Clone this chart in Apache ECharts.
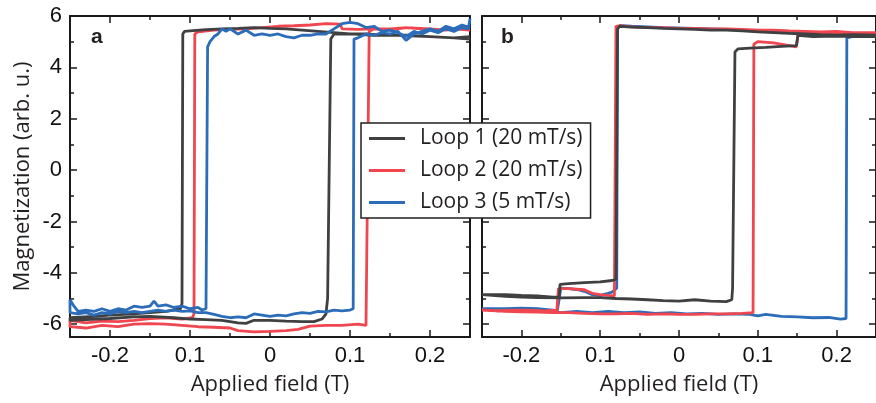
<!DOCTYPE html>
<html><head><meta charset="utf-8">
<script src="https://cdn.jsdelivr.net/npm/echarts@6/dist/echarts.min.js"></script>
<style>html,body{margin:0;padding:0;background:#fff}#c{width:876px;height:403px}</style>
</head><body><div id="c"></div>
<script>
// ---- tick values & labels ----
const xTicks = [-0.2, -0.1, 0, 0.1, 0.2];
const xTickLabels = ['-0.2', '0.1', '0', '0.1', '0.2'];
const xMinorTicks = [-0.15, -0.05, 0.05, 0.15];
const yTicks = [-6, -4, -2, 0, 2, 4, 6];
const yTickLabels = ['-6', '-4', '-2', '0', '2', '4', '6'];
const yMinorTicks = [-5, -3, -1, 1, 3, 5];
const seriesNames = ['Loop 1 (20 mT/s)', 'Loop 2 (20 mT/s)', 'Loop 3 (5 mT/s)'];
const panelLabels = ['a', 'b'];

// ---- panel a data [field (T), magnetization] ----
const aLoop1 = [[0.25,5.1],[0.23,5.15],[0.2,5.2],[0.17,5.25],[0.14,5.25],[0.12,5.3],[0.1,5.3],[0.08,5.35],[0.06,5.4],[0.04,5.45],[0.02,5.5],[0,5.52],[-0.02,5.55],[-0.04,5.52],[-0.06,5.5],[-0.08,5.47],[-0.1,5.42],[-0.107,5.4],[-0.109,5.3],[-0.11,-5.2],[-0.112,-5.4],[-0.13,-5.5],[-0.15,-5.55],[-0.17,-5.6],[-0.2,-5.65],[-0.22,-5.7],[-0.25,-5.75],
  [-0.25,-5.85],[-0.23,-5.82],[-0.2,-5.78],[-0.17,-5.72],[-0.15,-5.7],[-0.12,-5.75],[-0.1,-5.8],[-0.08,-5.82],[-0.06,-5.85],[-0.04,-5.95],[-0.03,-5.97],[-0.02,-5.85],[0,-5.85],[0.02,-5.88],[0.04,-5.9],[0.055,-5.9],[0.065,-5.8],[0.07,-5.6],[0.072,-5.0],[0.076,5.1],[0.08,5.3],[0.1,5.3],[0.13,5.25],[0.16,5.25],[0.2,5.2],[0.23,5.15],[0.25,5.2]];
const aLoop2 = [[0.25,5.45],[0.23,5.5],[0.21,5.45],[0.19,5.5],[0.17,5.55],[0.15,5.5],[0.13,5.5],[0.11,5.48],[0.09,5.5],[0.088,5.68],[0.07,5.7],[0.05,5.65],[0.03,5.62],[0.01,5.6],[-0.01,5.55],[-0.03,5.5],[-0.05,5.48],[-0.07,5.45],[-0.09,5.38],[-0.094,5.3],[-0.095,-5.6],[-0.097,-5.75],[-0.11,-5.8],[-0.13,-5.75],[-0.15,-5.78],[-0.17,-5.85],[-0.19,-5.9],[-0.21,-5.88],[-0.23,-5.95],[-0.25,-5.85],
  [-0.25,-6.1],[-0.23,-6.15],[-0.21,-6.05],[-0.19,-6.1],[-0.17,-6.0],[-0.15,-5.98],[-0.13,-6.0],[-0.11,-6.05],[-0.09,-6.1],[-0.07,-6.12],[-0.05,-6.15],[-0.04,-6.25],[-0.02,-6.3],[0,-6.28],[0.02,-6.25],[0.035,-6.2],[0.05,-6.08],[0.07,-6.05],[0.09,-6.05],[0.11,-6.0],[0.12,-6.05],[0.122,-6.0],[0.124,5.4],[0.13,5.5],[0.15,5.45],[0.17,5.55],[0.2,5.5],[0.22,5.45],[0.25,5.6]];
const aLoop3 = [[0.25,5.9],[0.248,5.5],[0.24,5.55],[0.23,5.4],[0.22,5.5],[0.21,5.35],[0.2,5.45],[0.19,5.3],[0.18,5.4],[0.17,5.2],[0.16,5.35],[0.15,5.45],[0.14,5.4],[0.13,5.6],[0.12,5.55],[0.11,5.7],[0.1,5.75],[0.09,5.7],[0.08,5.5],[0.07,5.3],[0.06,5.3],[0.05,5.25],[0.04,5.25],[0.03,5.15],[0.02,5.2],[0.01,5.3],[0,5.25],[-0.01,5.3],[-0.02,5.25],[-0.03,5.45],[-0.04,5.3],[-0.05,5.5],[-0.055,5.4],[-0.06,5.5],[-0.065,5.3],[-0.07,5.2],[-0.075,5.0],[-0.078,4.8],[-0.079,4.75],[-0.08,-5.4],[-0.085,-5.45],[-0.09,-5.35],[-0.1,-5.4],[-0.11,-5.3],[-0.12,-5.35],[-0.13,-5.25],[-0.14,-5.3],[-0.145,-5.1],[-0.15,-5.3],[-0.16,-5.35],[-0.17,-5.3],[-0.18,-5.45],[-0.19,-5.4],[-0.2,-5.5],[-0.21,-5.4],[-0.22,-5.5],[-0.23,-5.45],[-0.24,-5.5],[-0.245,-5.3],[-0.25,-5.05],
  [-0.25,-5.55],[-0.24,-5.6],[-0.23,-5.55],[-0.22,-5.65],[-0.21,-5.55],[-0.2,-5.6],[-0.19,-5.5],[-0.18,-5.55],[-0.17,-5.5],[-0.16,-5.55],[-0.15,-5.5],[-0.14,-5.45],[-0.13,-5.5],[-0.12,-5.45],[-0.11,-5.5],[-0.1,-5.48],[-0.09,-5.55],[-0.08,-5.55],[-0.07,-5.62],[-0.06,-5.7],[-0.05,-5.75],[-0.04,-5.72],[-0.03,-5.75],[-0.02,-5.6],[-0.01,-5.65],[0,-5.7],[0.01,-5.65],[0.02,-5.68],[0.03,-5.6],[0.04,-5.55],[0.05,-5.58],[0.06,-5.5],[0.07,-5.52],[0.08,-5.45],[0.09,-5.48],[0.1,-5.45],[0.104,-5.4],[0.105,5.1],[0.11,5.15],[0.12,5.3],[0.13,5.25],[0.14,5.35],[0.15,5.3],[0.16,5.4],[0.17,5.05],[0.18,5.3],[0.19,5.4],[0.2,5.5],[0.21,5.4],[0.22,5.6],[0.23,5.5],[0.24,5.65],[0.25,5.55]];

// ---- panel b data ----
const bLoop1 = [[0.25,5.25],[0.22,5.27],[0.2,5.25],[0.18,5.27],[0.16,5.3],[0.14,5.32],[0.12,5.35],[0.1,5.38],[0.08,5.42],[0.06,5.45],[0.04,5.45],[0.02,5.48],[0,5.5],[-0.02,5.52],[-0.04,5.55],[-0.06,5.57],[-0.075,5.6],[-0.078,5.5],[-0.08,-4.25],[-0.085,-4.3],[-0.1,-4.35],[-0.12,-4.38],[-0.14,-4.42],[-0.151,-4.45],[-0.152,-4.95],[-0.16,-4.95],[-0.18,-4.9],[-0.2,-4.88],[-0.22,-4.85],[-0.25,-4.85],
  [-0.25,-4.9],[-0.22,-4.92],[-0.2,-4.95],[-0.18,-4.97],[-0.15,-4.98],[-0.12,-4.97],[-0.1,-4.97],[-0.08,-5.0],[-0.06,-5.02],[-0.04,-5.05],[-0.02,-5.08],[0,-5.1],[0.02,-5.05],[0.04,-5.1],[0.06,-5.12],[0.067,-5.05],[0.068,-4.6],[0.071,4.6],[0.075,4.72],[0.09,4.75],[0.11,4.78],[0.13,4.82],[0.149,4.85],[0.151,5.25],[0.17,5.2],[0.2,5.22],[0.22,5.2],[0.25,5.2]];
const bLoop2 = [[0.25,5.35],[0.22,5.35],[0.2,5.4],[0.18,5.38],[0.16,5.4],[0.14,5.42],[0.12,5.45],[0.1,5.45],[0.08,5.48],[0.06,5.5],[0.04,5.5],[0.02,5.52],[0,5.52],[-0.02,5.55],[-0.04,5.55],[-0.06,5.58],[-0.075,5.62],[-0.08,5.6],[-0.082,-4.9],[-0.09,-4.88],[-0.1,-4.85],[-0.11,-4.8],[-0.12,-4.66],[-0.13,-4.64],[-0.14,-4.62],[-0.153,-4.62],[-0.155,-5.45],[-0.17,-5.48],[-0.19,-5.45],[-0.21,-5.45],[-0.23,-5.47],[-0.25,-5.45],
  [-0.25,-5.5],[-0.22,-5.5],[-0.2,-5.52],[-0.18,-5.53],[-0.16,-5.55],[-0.14,-5.55],[-0.12,-5.58],[-0.1,-5.6],[-0.08,-5.6],[-0.06,-5.58],[-0.04,-5.62],[-0.02,-5.6],[0,-5.62],[0.02,-5.62],[0.04,-5.6],[0.06,-5.6],[0.08,-5.58],[0.094,-5.55],[0.095,4.9],[0.1,5.0],[0.12,4.95],[0.14,4.85],[0.149,4.8],[0.151,5.3],[0.17,5.3],[0.2,5.32],[0.22,5.3],[0.25,5.35]];
const bLoop3 = [[0.25,5.25],[0.22,5.3],[0.2,5.3],[0.17,5.35],[0.14,5.4],[0.1,5.42],[0.06,5.48],[0.02,5.52],[-0.02,5.55],[-0.06,5.6],[-0.075,5.62],[-0.078,5.55],[-0.079,-4.6],[-0.085,-4.75],[-0.09,-4.8],[-0.1,-4.88],[-0.11,-4.85],[-0.12,-4.72],[-0.13,-4.65],[-0.14,-4.62],[-0.15,-4.6],[-0.152,-4.62],[-0.154,-5.4],[-0.155,-5.55],[-0.16,-5.45],[-0.18,-5.4],[-0.2,-5.38],[-0.22,-5.4],[-0.25,-5.4],
  [-0.25,-5.45],[-0.23,-5.48],[-0.21,-5.42],[-0.19,-5.5],[-0.17,-5.48],[-0.15,-5.55],[-0.13,-5.5],[-0.11,-5.55],[-0.09,-5.5],[-0.07,-5.55],[-0.05,-5.52],[-0.03,-5.58],[-0.01,-5.55],[0.01,-5.6],[0.03,-5.58],[0.05,-5.62],[0.07,-5.6],[0.09,-5.62],[0.1,-5.68],[0.11,-5.62],[0.13,-5.7],[0.15,-5.72],[0.17,-5.75],[0.19,-5.74],[0.205,-5.8],[0.212,-5.78],[0.213,5.15],[0.22,5.2],[0.25,5.22]];

const colors = {1: '#3f4042', 2: '#ef4650', 3: '#2c6db9'};
const AX = '#1a1a1a';
const numFont = 'Liberation Sans';
const textFont = 'Open Sans';

function lab(list, labels) {
  return function (v) {
    for (let i = 0; i < list.length; i++) if (Math.abs(list[i] - v) < 1e-9) return labels[i];
    return '';
  };
}

const chart = echarts.init(document.getElementById('c'), null, {renderer: 'canvas'});
const grids = [
  {left: 70, top: 16, width: 400, height: 321},
  {left: 482, top: 16, width: 400, height: 321}
];
const xAxes = [], yAxes = [];
grids.forEach((g, p) => {
  const base = {gridIndex: p, type: 'value', min: -0.25, max: 0.25, splitLine: {show: false}};
  xAxes.push(Object.assign({}, base, {
    position: 'bottom',
    axisLine: {show: true, onZero: false, lineStyle: {color: AX, width: 2}},
    axisTick: {show: true, inside: true, length: 7, lineStyle: {color: AX, width: 1.5}, customValues: xTicks},
    axisLabel: {show: true, margin: 8, customValues: xTicks, formatter: lab(xTicks, xTickLabels), color: '#111', fontSize: 22, fontFamily: numFont},
    name: 'Applied field (T)', nameLocation: 'middle', nameGap: 37,
    nameTextStyle: {fontSize: 22, fontFamily: textFont, color: '#231f20'}
  }));
  xAxes.push(Object.assign({}, base, {
    position: 'bottom',
    axisLine: {show: false, onZero: false},
    axisTick: {show: true, inside: true, length: 4, lineStyle: {color: AX, width: 1.5}, customValues: xMinorTicks},
    axisLabel: {show: false}
  }));
  xAxes.push(Object.assign({}, base, {
    position: 'top',
    axisLine: {show: true, onZero: false, lineStyle: {color: AX, width: 2}},
    axisTick: {show: true, inside: true, length: 7, lineStyle: {color: AX, width: 1.5}, customValues: xTicks},
    axisLabel: {show: false}
  }));
  xAxes.push(Object.assign({}, base, {
    position: 'top',
    axisLine: {show: false, onZero: false},
    axisTick: {show: true, inside: true, length: 4, lineStyle: {color: AX, width: 1.5}, customValues: xMinorTicks},
    axisLabel: {show: false}
  }));
  const ybase = {gridIndex: p, type: 'value', min: -6.5, max: 6, splitLine: {show: false}};
  yAxes.push(Object.assign({}, ybase, {
    position: 'left',
    axisLine: {show: true, onZero: false, lineStyle: {color: AX, width: 2}},
    axisTick: {show: true, inside: true, length: 7, lineStyle: {color: AX, width: 1.5}, customValues: yTicks},
    axisLabel: {show: p === 0, margin: 8, customValues: yTicks, formatter: lab(yTicks, yTickLabels), color: '#111', fontSize: 22, fontFamily: numFont},
    name: p === 0 ? 'Magnetization (arb. u.)' : '', nameLocation: 'middle', nameGap: 36,
    nameTextStyle: {fontSize: 22, fontFamily: textFont, color: '#231f20'}
  }));
  yAxes.push(Object.assign({}, ybase, {
    position: 'left',
    axisLine: {show: false, onZero: false},
    axisTick: {show: true, inside: true, length: 4, lineStyle: {color: AX, width: 1.5}, customValues: yMinorTicks},
    axisLabel: {show: false}
  }));
  yAxes.push(Object.assign({}, ybase, {
    position: 'right',
    axisLine: {show: true, onZero: false, lineStyle: {color: AX, width: 2}},
    axisTick: {show: true, inside: true, length: 7, lineStyle: {color: AX, width: 1.5}, customValues: yTicks},
    axisLabel: {show: false}
  }));
  yAxes.push(Object.assign({}, ybase, {
    position: 'right',
    axisLine: {show: false, onZero: false},
    axisTick: {show: true, inside: true, length: 4, lineStyle: {color: AX, width: 1.5}, customValues: yMinorTicks},
    axisLabel: {show: false}
  }));
});

function ser(name, colorKey, data, p) {
  return {
    type: 'line', name: name, data: data,
    xAxisIndex: p * 4, yAxisIndex: p * 4,
    showSymbol: false, symbol: 'none', clip: true,
    lineStyle: {color: colors[colorKey], width: 2.8},
    itemStyle: {color: colors[colorKey]},
    emphasis: {disabled: true}
  };
}

const series = [
  ser(seriesNames[1], 2, aLoop2, 0),
  ser(seriesNames[0], 1, aLoop1, 0),
  ser(seriesNames[2], 3, aLoop3, 0),
  ser(seriesNames[2], 3, bLoop3, 1),
  ser(seriesNames[1], 2, bLoop2, 1),
  ser(seriesNames[0], 1, bLoop1, 1)
];

chart.setOption({
  animation: false,
  backgroundColor: '#fff',
  title: [
    {text: panelLabels[0], left: 91, top: 27, padding: 0, textStyle: {fontSize: 21, fontWeight: 'bold', fontFamily: numFont, color: '#231f20'}},
    {text: panelLabels[1], left: 501, top: 27, padding: 0, textStyle: {fontSize: 21, fontWeight: 'bold', fontFamily: numFont, color: '#231f20'}}
  ],
  grid: grids,
  xAxis: xAxes,
  yAxis: yAxes,
  legend: {
    data: seriesNames,
    orient: 'vertical', left: 361, top: 123,
    padding: [4, 8, 4, 8],
    itemWidth: 36, itemHeight: 3, icon: 'rect', itemGap: 9,
    backgroundColor: '#fff', borderColor: '#231f20', borderWidth: 1.5, borderRadius: 0,
    textStyle: {fontFamily: textFont, fontSize: 21, color: '#231f20', padding: [0, 0, 0, 10], lineHeight: 23},
    selectedMode: false
  },
  series: series
});
</script></body></html>
